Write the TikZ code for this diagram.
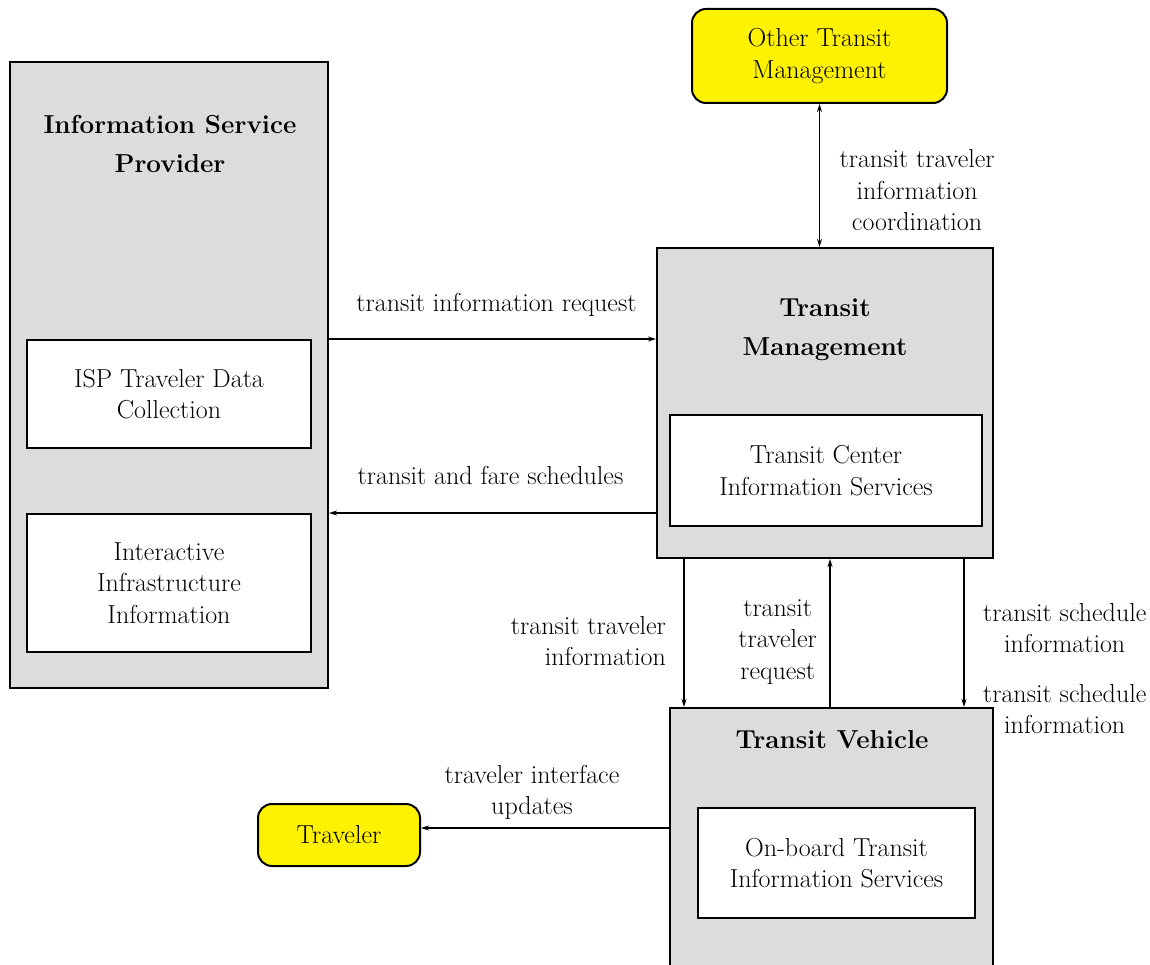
\documentclass[tikz,border=0pt]{standalone}
\usepackage{fontspec}
\usetikzlibrary{arrows.meta}
\definecolor{boxgray}{RGB}{220,220,220}
\newcommand{\lbl}{\fontsize{26}{31.5}\selectfont}
\newcommand{\ttl}{\fontsize{26}{39}\selectfont\bfseries}

\begin{document}
\begin{tikzpicture}[x=1pt,y=-1pt,
    >={Stealth[length=8pt,width=5pt]},
    subsys/.style={draw, line width=2pt, fill=boxgray, inner sep=0pt},
    equip/.style={draw, line width=2pt, fill=white, align=center, inner sep=0pt, font=\lbl},
    term/.style={draw, line width=2pt, fill=yellow, rounded corners=14pt, align=center, inner sep=0pt, font=\lbl},
    boxtitle/.style={align=center, font=\ttl},
    flow/.style={line width=1.6pt, ->},
    flowlbl/.style={align=center, font=\lbl}]
    \useasboundingbox (0,0) rectangle (1150,965);

    \node[subsys, minimum width=318, minimum height=626] (isp) at (169,375) {};
    \node[boxtitle] (isptitle) at (170,144) {Information Service\\Provider};
    \node[equip, minimum width=284, minimum height=108] (ispdata) at (169,394) {ISP Traveler Data\\Collection};
    \node[equip, minimum width=284, minimum height=138] (ispinfra) at (169,583) {Interactive\\Infrastructure\\Information};

    \node[term, minimum width=255, minimum height=94] (other) at (819.5,56) {Other Transit\\Management};

    \node[subsys, minimum width=336, minimum height=310] (tm) at (825,403) {};
    \node[boxtitle] (tmtitle) at (825,330) {Transit\\Management};
    \node[equip, minimum width=312, minimum height=111] (tmcis) at (826,470.5) {Transit Center\\Information Services};

    \node[subsys, minimum width=323, minimum height=272] (tv) at (831.5,844) {};
    \node[boxtitle] (tvtitle) at (832,740) {Transit Vehicle};
    \node[equip, minimum width=277, minimum height=110] (tvobis) at (836.5,863) {On-board Transit\\Information Services};

    \node[term, minimum width=162, minimum height=62] (traveler) at (339,835) {Traveler};

    \coordinate (tta) at ([xshift=28pt]tm.south west);
    \coordinate (ttb) at ([xshift=5pt]tm.south);
    \coordinate (ttc) at ([xshift=-30pt]tm.south east);
    \coordinate (upd) at ([yshift=7pt]traveler.east);

    \draw[flow] (isp.east |- ispdata.north) -- (tm.west |- ispdata.north)
        node[flowlbl, midway, above, xshift=4pt, yshift=18pt] (lreq) {transit information request};
    \draw[flow] (tm.west |- ispinfra.north) -- (isp.east |- ispinfra.north)
        node[flowlbl, midway, above, xshift=-2pt, yshift=24pt] (lfare) {transit and fare schedules};
    \draw[flow, <->] (other.south) -- (other.south |- tm.north)
        node[flowlbl, midway, right, xshift=16pt, yshift=-15pt] (lcoord) {transit traveler\\information\\coordination};

    \draw[flow] (tta) -- (tta |- tv.north)
        node[flowlbl, midway, left, align=right, xshift=-14pt, yshift=-8pt] (ltti) {transit traveler\\information};
    \draw[flow] (ttb |- tv.north) -- (ttb)
        node[flowlbl, midway, left, xshift=-9pt, yshift=-9pt] (lttr) {transit\\traveler\\request};
    \draw[flow] (ttc) -- (ttc |- tv.north)
        node[flowlbl, midway, right, xshift=15pt, yshift=5pt] (lsch1) {transit schedule\\information}
        node[flowlbl, midway, right, xshift=15pt, yshift=-76pt] (lsch2) {transit schedule\\information};

    \draw[flow] (tv.west |- upd) -- (upd)
        node[flowlbl, midway, above, xshift=-13pt, yshift=4pt] (lupd) {traveler interface\\updates};
\end{tikzpicture}
\end{document}
